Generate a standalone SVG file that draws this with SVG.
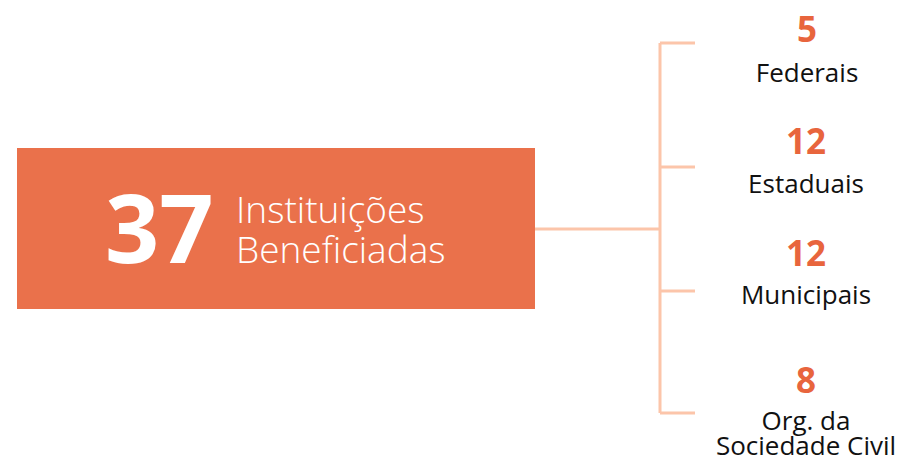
<svg xmlns="http://www.w3.org/2000/svg" width="904" height="458" viewBox="0 0 904 458">
<style>
.num{font-family:"Open Sans","Liberation Sans",sans-serif;font-weight:700;font-size:35px;fill:#E8653D;text-anchor:middle}
.lbl{font-family:"Open Sans","Liberation Sans",sans-serif;font-weight:400;font-size:26px;fill:#111111;text-anchor:middle}
.big{font-family:"Open Sans","Liberation Sans",sans-serif;font-weight:700;font-size:95px;fill:#ffffff}
.sub{font-family:"Open Sans","Liberation Sans",sans-serif;font-weight:300;font-size:37px;fill:#ffffff}
.con{stroke:#FCC5AA;stroke-width:3;fill:none}
</style>
<rect x="0" y="0" width="904" height="458" fill="#ffffff"/>
<g id="connectors">
<path class="con" d="M535 229 H660"/>
<path class="con" d="M660 43 V413"/>
<path class="con" d="M660 43 H695"/>
<path class="con" d="M660 167 H695"/>
<path class="con" d="M660 291 H695"/>
<path class="con" d="M660 413 H695"/>
</g>
<g id="total">
<rect x="17" y="148" width="518" height="161" fill="#EA714B"/>
<text class="big" x="105" y="263">37</text>
<text class="sub" x="236" y="223">Instituições</text>
<text class="sub" x="236" y="263">Beneficiadas</text>
</g>
<g id="federais">
<text class="num" x="807" y="42">5</text>
<text class="lbl" x="807" y="82">Federais</text>
</g>
<g id="estaduais">
<text class="num" x="806" y="154">12</text>
<text class="lbl" x="806" y="193">Estaduais</text>
</g>
<g id="municipais">
<text class="num" x="806" y="266">12</text>
<text class="lbl" x="806" y="304">Municipais</text>
</g>
<g id="osc">
<text class="num" x="806" y="393">8</text>
<text class="lbl" x="806" y="430">Org. da</text>
<text class="lbl" x="806" y="455">Sociedade Civil</text>
</g>
</svg>
